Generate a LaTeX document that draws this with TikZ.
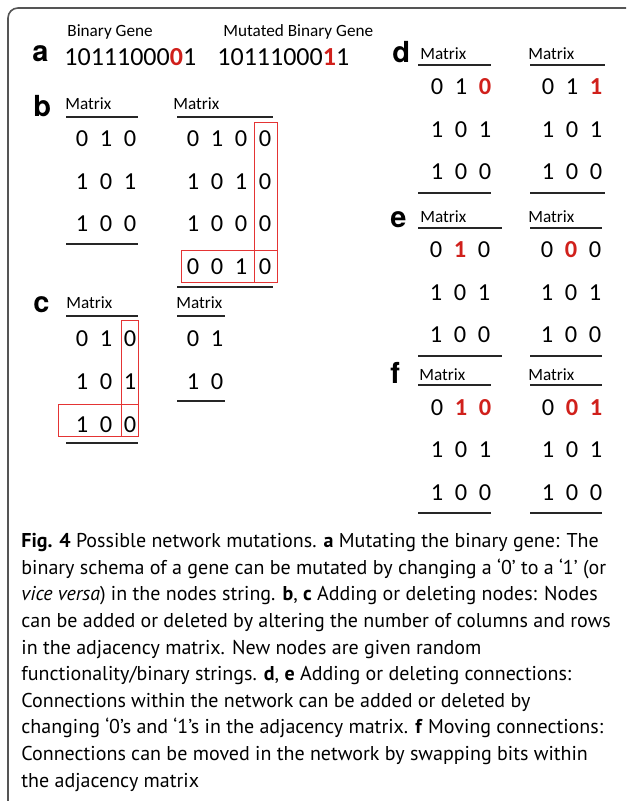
\documentclass[tikz,border=0pt]{standalone}
\usepackage{fontspec}
\setmainfont{PT Sans}
\newfontfamily\calibri{Carlito}
\newfontfamily\helv{TeX Gyre Heros}
\usetikzlibrary{positioning}
\definecolor{mutred}{RGB}{208,32,27}
\definecolor{boxred}{RGB}{228,52,52}
\definecolor{framegray}{RGB}{85,85,85}

% a flipped bit
\newcommand{\flip}[1]{\textcolor{mutred}{\bfseries #1}}

% block of bits: name prefix, x of first column, baseline of first row, rows
\newcommand{\bitgrid}[4]{%
  \foreach \bitrow [count=\rowno] in {#4}
    \foreach \val [count=\colno] in \bitrow
      \node [bit] (#1-\rowno-\colno) at ({#2+24*(\colno-1)}, {#3+42.5*(\rowno-1)}) {\val};}

\begin{document}
\begin{tikzpicture}
  [x=0.5pt, y=-0.5pt,
  bit/.style = {font=\calibri\fontsize{12.2}{14}\selectfont, anchor=base, inner sep=0pt},
  gene/.style = {font=\calibri\fontsize{13}{15}\selectfont, anchor=base west, inner sep=0pt},
  tag/.style = {font=\calibri\fontsize{8.6}{10}\selectfont, anchor=base west, inner sep=0pt},
  panel/.style = {font=\helv\bfseries\fontsize{14.5}{16}\selectfont, anchor=base west, inner sep=0pt},
  rule/.style = {draw=black!85, line width=0.75pt},
  newbits/.style = {draw=boxred, line width=0.5pt},
  frame/.style = {draw=framegray, line width=0.8pt, rounded corners=5pt},
  caption/.style = {anchor=north west, inner sep=0pt, align=left, font=\fontsize{10}{13.3}\selectfont}]

  \useasboundingbox (0,0) rectangle (626,801);
  \draw [frame] (8,801) -- (8,8) -- (626,8);

  % a: binary gene
  \node [panel] (a) at (32,62) {a};
  \node [tag] (gene label) at (67,37) {Binary Gene};
  \node [gene] (gene) at (64,66) {10111000\flip{0}1};
  \node [tag] (mutant label) at (223,37) {Mutated Binary Gene};
  \node [gene] (mutant) at (217,66) {10111000\flip{1}1};

  % b: adding a node
  \node [panel] (b) at (33,117) {b};
  \node [tag] (b-old label) at (65,110) {Matrix};
  \draw [rule] (66,117) -- (138,117);
  \bitgrid{b-old}{82}{147}{{0,1,0},{1,0,1},{1,0,0}}
  \draw [rule] (66,244) -- (138,244);

  \node [tag] (b-new label) at (173,110) {Matrix};
  \draw [rule] (177,117) -- (273,117);
  \bitgrid{b-new}{193}{147}{{0,1,0,0},{1,0,1,0},{1,0,0,0},{0,0,1,0}}
  \draw [rule] (177,287) -- (273,287);
  \draw [newbits] (254,123) rectangle (277,283);
  \draw [newbits] (181,251) rectangle (277,283);

  % c: deleting a node
  \node [panel] (c) at (33,313) {c};
  \node [tag] (c-old label) at (66,309) {Matrix};
  \draw [rule] (66,316) -- (138,316);
  \bitgrid{c-old}{82}{347}{{0,1,0},{1,0,1},{1,0,0}}
  \draw [rule] (66,443) -- (138,443);
  \draw [newbits] (121,321) rectangle (138,436);
  \draw [newbits] (58,404) rectangle (138,436);

  \node [tag] (c-new label) at (176,309) {Matrix};
  \draw [rule] (177,316) -- (225,316);
  \bitgrid{c-new}{193}{347}{{0,1},{1,0}}
  \draw [rule] (177,401) -- (225,401);

  % d: adding a connection
  \node [panel] (d) at (392,63) {d};
  \node [tag] (d-old label) at (420,60) {Matrix};
  \draw [rule] (418,65) -- (491,65);
  \bitgrid{d-old}{437}{95}{{0,1,\flip{0}},{1,0,1},{1,0,0}}
  \draw [rule] (418,193) -- (491,193);

  \node [tag] (d-new label) at (528,60) {Matrix};
  \draw [rule] (530,65) -- (605,65);
  \bitgrid{d-new}{548}{95}{{0,1,\flip{1}},{1,0,1},{1,0,0}}
  \draw [rule] (530,193) -- (605,193);

  % e: deleting a connection
  \node [panel] (e) at (390,228) {e};
  \node [tag] (e-old label) at (420,223) {Matrix};
  \draw [rule] (418,228) -- (502,228);
  \bitgrid{e-old}{436}{258}{{0,\flip{1},0},{1,0,1},{1,0,0}}
  \draw [rule] (418,356) -- (502,356);

  \node [tag] (e-new label) at (528,223) {Matrix};
  \draw [rule] (530,228) -- (602,228);
  \bitgrid{e-new}{547}{258}{{0,\flip{0},0},{1,0,1},{1,0,0}}
  \draw [rule] (530,356) -- (602,356);

  % f: moving a connection
  \node [panel] (f) at (390,383) {f};
  \node [tag] (f-old label) at (419,380) {Matrix};
  \draw [rule] (418,385) -- (491,385);
  \bitgrid{f-old}{437}{415}{{0,\flip{1},\flip{0}},{1,0,1},{1,0,0}}
  \draw [rule] (418,513) -- (491,513);

  \node [tag] (f-new label) at (528,380) {Matrix};
  \draw [rule] (530,385) -- (602,385);
  \bitgrid{f-new}{548}{415}{{0,\flip{0},\flip{1}},{1,0,1},{1,0,0}}
  \draw [rule] (530,513) -- (602,513);

  \node [caption] (caption) at (21,533)
    {\textbf{Fig. 4} Possible network mutations. \textbf{a} Mutating the binary gene: The\\
     binary schema of a gene can be mutated by changing a ‘0’ to a ‘1’ (or\\
     \textit{vice versa}) in the nodes string. \textbf{b}, \textbf{c} Adding or deleting nodes: Nodes\\
     can be added or deleted by altering the number of columns and rows\\
     in the adjacency matrix. New nodes are given random\\
     functionality/binary strings. \textbf{d}, \textbf{e} Adding or deleting connections:\\
     Connections within the network can be added or deleted by\\
     changing ‘0’s and ‘1’s in the adjacency matrix. \textbf{f} Moving connections:\\
     Connections can be moved in the network by swapping bits within\\
     the adjacency matrix};
\end{tikzpicture}
\end{document}
